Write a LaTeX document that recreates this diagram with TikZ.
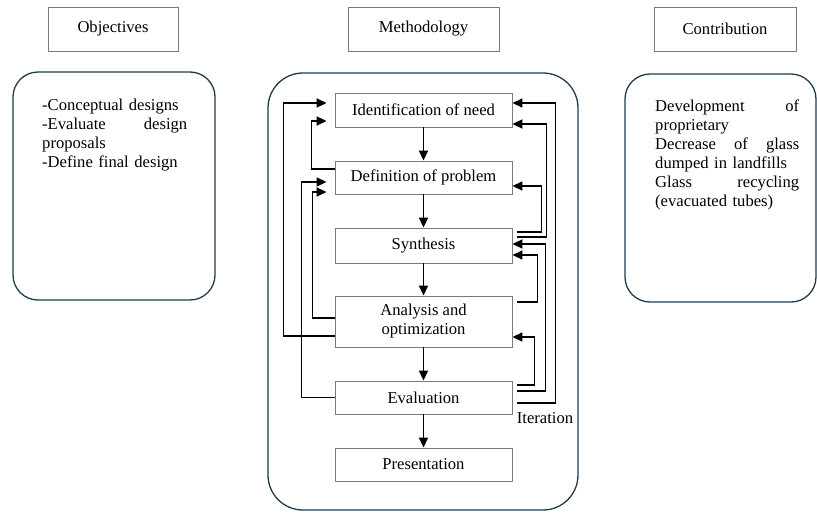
\documentclass[tikz,border=0pt]{standalone}
\usepackage{fontspec}
\setmainfont{Liberation Serif}
\usetikzlibrary{arrows.meta}
\definecolor{panelc}{HTML}{1F3A4B}
\definecolor{boxc}{HTML}{7A7A7A}
\begin{document}
\begin{tikzpicture}[x=1pt,y=-1pt,
  txt/.style={font=\fontsize{16.6}{19}\selectfont},
  headbox/.style={txt, draw=boxc, line width=0.9pt, minimum height=44pt, inner sep=0pt},
  panel/.style={draw=panelc, line width=1.3pt, rounded corners=#1, inner sep=0pt},
  stepbox/.style={txt, draw=boxc, line width=0.9pt, minimum width=177pt, inner sep=0pt, align=center},
  arr/.style={line width=1.8pt, -{Triangle[length=10pt,width=9pt]}},
  fbl/.style={arr, shorten >=8pt},
  fbr/.style={arr, shorten <=5pt}]
\useasboundingbox (0,0) rectangle (817,512);

% headers
\node[headbox, minimum width=130pt] (obj) at (113,29) {Objectives};
\node[headbox, minimum width=151pt] (meth) at (423.5,29) {Methodology};
\node[headbox, minimum width=142pt] (contr) at (725,29) {Contribution};

% panels
\node[panel=25pt, minimum width=202pt, minimum height=228pt] (lp) at (114,186) {};
\node[panel=35pt, minimum width=310pt, minimum height=437pt] (mp) at (423,291.5) {};
\node[panel=25pt, minimum width=191pt, minimum height=228pt] (rp) at (720.5,188) {};

% side texts
\node[txt, anchor=north west, text width=145pt, align=left, inner sep=0pt] (objtext) at (42,99)
  {-Conceptual designs\\-Evaluate\hfill design\\proposals\\-Define final design};
\node[txt, anchor=north west, text width=144pt, align=left, inner sep=0pt] (contrtext) at (655,100)
  {Development\hfill of\\proprietary\\Decrease\hfill of\hfill glass\\dumped in landfills\\Glass\hfill recycling\\(evacuated tubes)};

% steps
\node[stepbox, minimum height=34pt] (ident) at (423.5,110) {Identification of need};
\node[stepbox, minimum height=33pt] (def) at (423.5,177.5) {Definition of problem};
\node[stepbox, minimum height=35pt] (syn) at (423.5,245.5) {Synthesis};
\node[stepbox, minimum height=51pt] (ana) at (423.5,321.5) {Analysis and\\optimization};
\node[stepbox, minimum height=33pt] (eval) at (423.5,397.5) {Evaluation};
\node[stepbox, minimum height=33pt] (pres) at (423.5,464.5) {Presentation};
\node[txt, inner sep=0pt] (iter) at (545,418) {Iteration};

% forward arrows
\draw[arr] (ident) -- (def);
\draw[arr] (def) -- (syn);
\draw[arr] (syn) -- (ana);
\draw[arr] (ana) -- (eval);
\draw[arr] (eval) -- (pres);

% left feedback
\draw[fbl] ([yshift=-14.5pt]ana.west) -- ++(-51pt,0) |- ([yshift=7pt]ident.west);
\draw[fbl] ([yshift=8.5pt]def.west) -- ++(-23pt,0) |- ([yshift=-11pt]ident.west);
\draw[fbl] (eval.west) -- ++(-33pt,0) |- ([yshift=-4.5pt]def.west);
\draw[fbl] ([yshift=3.5pt]ana.west) -- ++(-22pt,0) |- ([yshift=-14.5pt]def.west);

% right feedback
\draw[fbr] ([yshift=-5.5pt]eval.east) -- ++(43pt,0) |- ([yshift=7pt]ident.east);
\draw[fbr] ([yshift=8.5pt]syn.east) -- ++(34pt,0) |- ([yshift=-14pt]ident.east);
\draw[fbr] ([yshift=13.5pt]syn.east) -- ++(29pt,0) |- ([yshift=-8.5pt]def.east);
\draw[fbr] ([yshift=6.5pt]eval.east) -- ++(33pt,0) |- ([yshift=1.5pt]syn.east);
\draw[fbr] ([yshift=19.5pt]ana.east) -- ++(25pt,0) |- ([yshift=-9.5pt]syn.east);
\draw[fbr] ([yshift=12.5pt]eval.east) -- ++(22pt,0) |- ([yshift=-15.5pt]ana.east);
\end{tikzpicture}
\end{document}
